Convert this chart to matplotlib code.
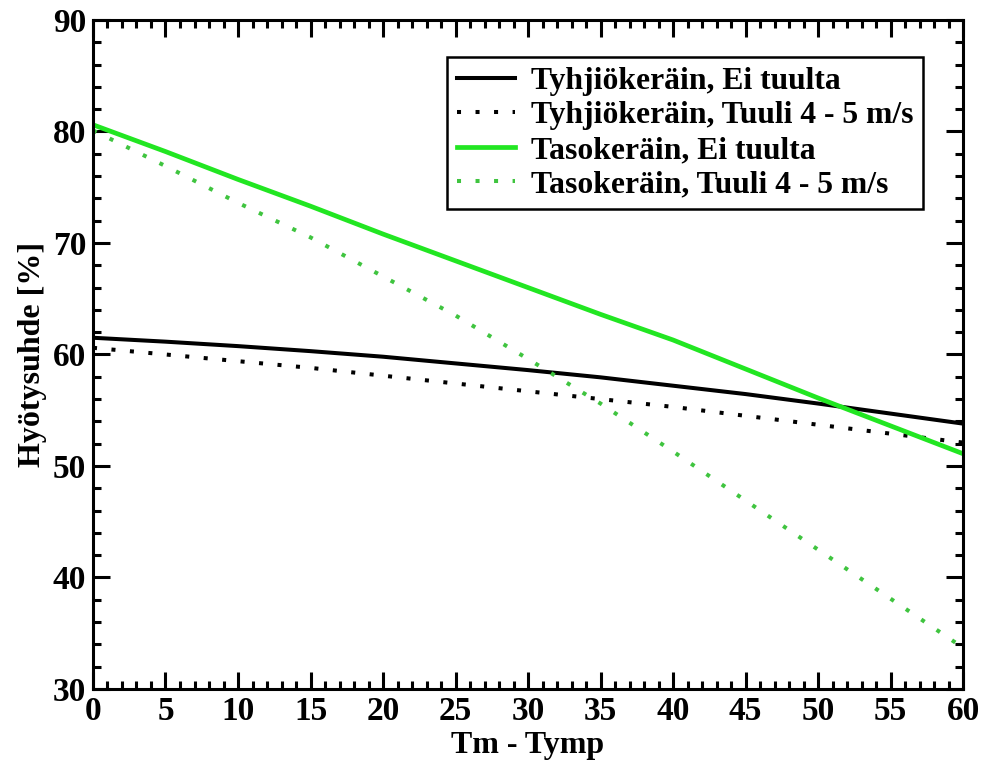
import matplotlib
matplotlib.use("Agg")
import matplotlib.pyplot as plt
from matplotlib.ticker import MultipleLocator

# values (every 5 units of Tm - Tymp)
dt = [0, 5, 10, 15, 20, 25, 30, 35, 40, 45, 50, 55, 60]
tyhjio_calm = [61.5, 61.15, 60.75, 60.3, 59.8, 59.2, 58.6, 57.95, 57.2, 56.45, 55.6, 54.7, 53.8]
tyhjio_wind = [60.6, 60.0, 59.4, 58.8, 58.1, 57.4, 56.7, 56.0, 55.3, 54.5, 53.7, 52.9, 52.1]
taso_calm = [80.6, 78.2, 75.7, 73.3, 70.8, 68.4, 66.0, 63.6, 61.3, 58.7, 56.1, 53.6, 51.1]
taso_wind = [80.1, 76.9, 73.6, 70.5, 67.0, 63.5, 59.6, 55.6, 51.3, 46.9, 42.5, 38.1, 33.7]

labels = [
    "Tyhjiökeräin, Ei tuulta",
    "Tyhjiökeräin, Tuuli 4 - 5 m/s",
    "Tasokeräin, Ei tuulta",
    "Tasokeräin, Tuuli 4 - 5 m/s",
]

plt.rcParams["font.family"] = ["Liberation Serif", "DejaVu Serif"]
plt.rcParams["font.weight"] = "bold"

fig = plt.figure(figsize=(9.82, 7.62), dpi=100)
ax = fig.add_axes([0.0947, 0.0958, 0.886, 0.878])

dot = (0, (1, 3.6))
ax.plot(dt, tyhjio_calm, color="black", lw=2.9, label=labels[0])
ax.plot(dt, tyhjio_wind, color="black", lw=2.9, ls=dot, dash_capstyle="butt", label=labels[1])
ax.plot(dt, taso_calm, color="#22e622", lw=3.4, label=labels[2])
ax.plot(dt, taso_wind, color="#3fc43f", lw=2.9, ls=dot, dash_capstyle="butt", label=labels[3])

ax.set_xlim(0, 60)
ax.set_ylim(30, 90)
ax.xaxis.set_major_locator(MultipleLocator(5))
ax.xaxis.set_minor_locator(MultipleLocator(1))
ax.yaxis.set_major_locator(MultipleLocator(10))
ax.yaxis.set_minor_locator(MultipleLocator(2))
ax.tick_params(which="both", direction="in", top=True, right=True, width=2.2,
               labelsize=24, pad=5)
ax.tick_params(which="major", length=12.5)
ax.tick_params(which="minor", length=6)
for sp in ax.spines.values():
    sp.set_linewidth(2.2)

ax.set_xlabel("Tm - Tymp", fontsize=23, fontweight="bold", labelpad=3)
ax.set_ylabel("Hyötysuhde [%]", fontsize=23, fontweight="bold", labelpad=4)

leg = ax.legend(loc="upper right", bbox_to_anchor=(0.94, 0.925), bbox_transform=fig.transFigure,
                fontsize=22.8, frameon=True, fancybox=False, framealpha=1,
                handlelength=1.85, handletextpad=0.5, labelspacing=0.17,
                borderpad=0.3, borderaxespad=0)
leg.get_frame().set_edgecolor("black")
leg.get_frame().set_linewidth(1.8)

fig.savefig("out.png", dpi=100)
